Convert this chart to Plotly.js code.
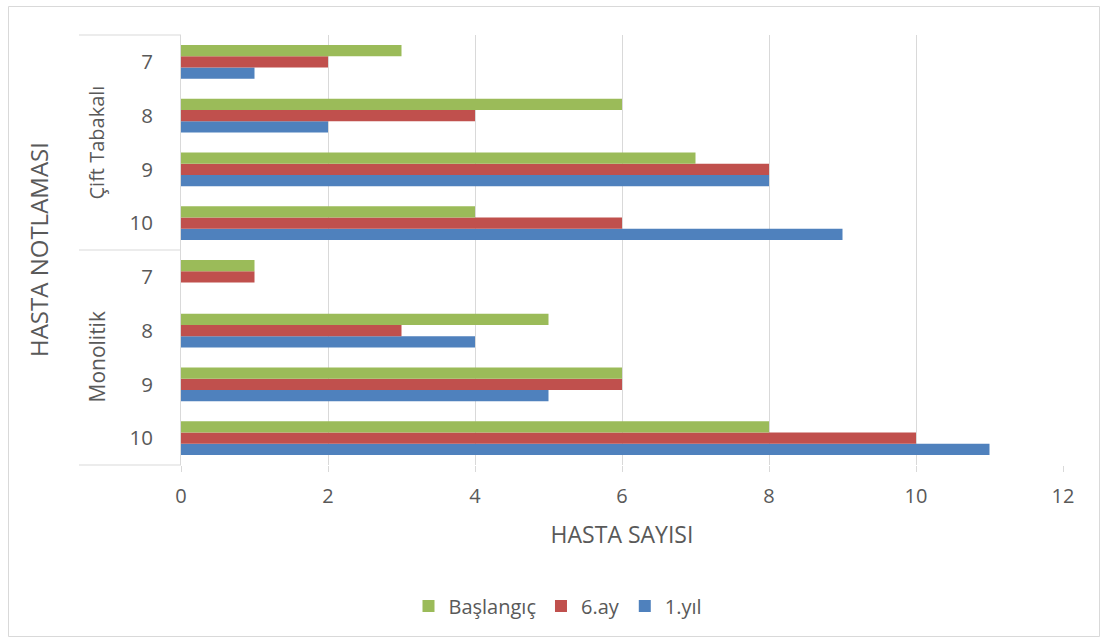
<!DOCTYPE html>
<html>
<head>
<meta charset="utf-8">
<script src="https://cdn.plot.ly/plotly-3.0.1.min.js"></script>
<style>html,body{margin:0;padding:0;background:#fff;} #chart{width:1105px;height:641px;}</style>
</head>
<body>
<div id="chart"></div>
<script>
// Categories (bottom to top): group + score
const groups = ["Monolitik", "Çift Tabakalı"];
const scores = ["10", "9", "8", "7"];
const categoryKeys = ["M10", "M9", "M8", "M7", "C10", "C9", "C8", "C7"];
const tickLabels = ["10", "9", "8", "7", "10", "9", "8", "7"];

// Series values in the same order as categoryKeys
const baslangic = [8, 6, 5, 1, 4, 7, 6, 3];
const ay6 = [10, 6, 3, 1, 6, 8, 4, 2];
const yil1 = [11, 5, 4, 0, 9, 8, 2, 1];

const seriesNames = ["Başlangıç", "6.ay", "1.yıl"];
const seriesColors = ["#9BBB59", "#C0504D", "#4F81BD"];

const xTicks = [0, 2, 4, 6, 8, 10, 12];

const FONT = "'Open Sans', 'Noto Sans', sans-serif";
const GREY = "#595959";

// Trace order bottom-to-top within a group: 1.yıl, 6.ay, Başlangıç
const traces = [
  {name: seriesNames[2], x: yil1, marker: {color: seriesColors[2]}},
  {name: seriesNames[1], x: ay6, marker: {color: seriesColors[1]}},
  {name: seriesNames[0], x: baslangic, marker: {color: seriesColors[0]}}
].map(t => Object.assign({type: "bar", orientation: "h", y: categoryKeys, hoverinfo: "x+name"}, t));

// plot area: x 181..1063, y 35..465
const L = 181, R = 1063, T = 35, B = 465, W = 1105, H = 641;
const px = v => (v - L) / (R - L);
const py = v => (B - v) / (B - T);

const layout = {
  width: W, height: H,
  margin: {l: L, r: W - R, t: T, b: H - B},
  paper_bgcolor: "#fff", plot_bgcolor: "#fff",
  font: {family: FONT, color: GREY, size: 18},
  barmode: "group", bargap: 0.37, bargroupgap: 0,
  showlegend: true,
  legend: {orientation: "h", traceorder: "reversed", x: px(558), xanchor: "center", y: py(606), yanchor: "middle", font: {size: 20, color: GREY}, itemwidth: 30},
  xaxis: {
    range: [0, 12], tickvals: xTicks, ticktext: xTicks.map(String),
    showgrid: true, gridcolor: "#D9D9D9", gridwidth: 1,
    zeroline: false, showline: false,
    ticks: "outside", ticklen: 6, tickcolor: "#D9D9D9",
    ticklabelstandoff: 7,
    tickfont: {size: 20, color: GREY},
    title: {text: "HASTA SAYISI", font: {size: 23, color: GREY}, standoff: 18},
    automargin: false, fixedrange: true
  },
  yaxis: {
    type: "category", categoryorder: "array", categoryarray: categoryKeys,
    range: [-0.5, 7.5],
    tickvals: categoryKeys, ticktext: tickLabels,
    showgrid: false, zeroline: false,
    showline: true, linecolor: "#D9D9D9", linewidth: 1,
    ticks: "", ticklabelstandoff: 23,
    tickfont: {size: 20.5, color: GREY},
    automargin: false, fixedrange: true
  },
  shapes: [
    {type: "line", xref: "paper", yref: "paper", x0: px(79), x1: 0, y0: 1, y1: 1, line: {color: "#D9D9D9", width: 1}},
    {type: "line", xref: "paper", yref: "paper", x0: px(79), x1: 0, y0: 0.5, y1: 0.5, line: {color: "#D9D9D9", width: 1}},
    {type: "line", xref: "paper", yref: "paper", x0: px(79), x1: 0, y0: 0, y1: 0, line: {color: "#D9D9D9", width: 1}},
    {type: "rect", xref: "paper", yref: "paper", x0: px(8.5), x1: px(1099.5), y0: py(6.5), y1: py(636.5), line: {color: "#D9D9D9", width: 1}, fillcolor: "rgba(0,0,0,0)", layer: "below"}
  ],
  annotations: [
    {text: groups[1], xref: "paper", yref: "y", x: px(96), y: 5.5, textangle: -90, showarrow: false, font: {size: 20, color: GREY}, xanchor: "center", yanchor: "middle"},
    {text: groups[0], xref: "paper", yref: "y", x: px(96), y: 1.5, textangle: -90, showarrow: false, font: {size: 21, color: GREY}, xanchor: "center", yanchor: "middle"},
    {text: "HASTA NOTLAMASI", xref: "paper", yref: "paper", x: px(38), y: 0.5, textangle: -90, showarrow: false, font: {size: 24, color: GREY}, xanchor: "center", yanchor: "middle"}
  ]
};

Plotly.newPlot("chart", traces, layout, {displayModeBar: false, staticPlot: true});
</script>
</body>
</html>
